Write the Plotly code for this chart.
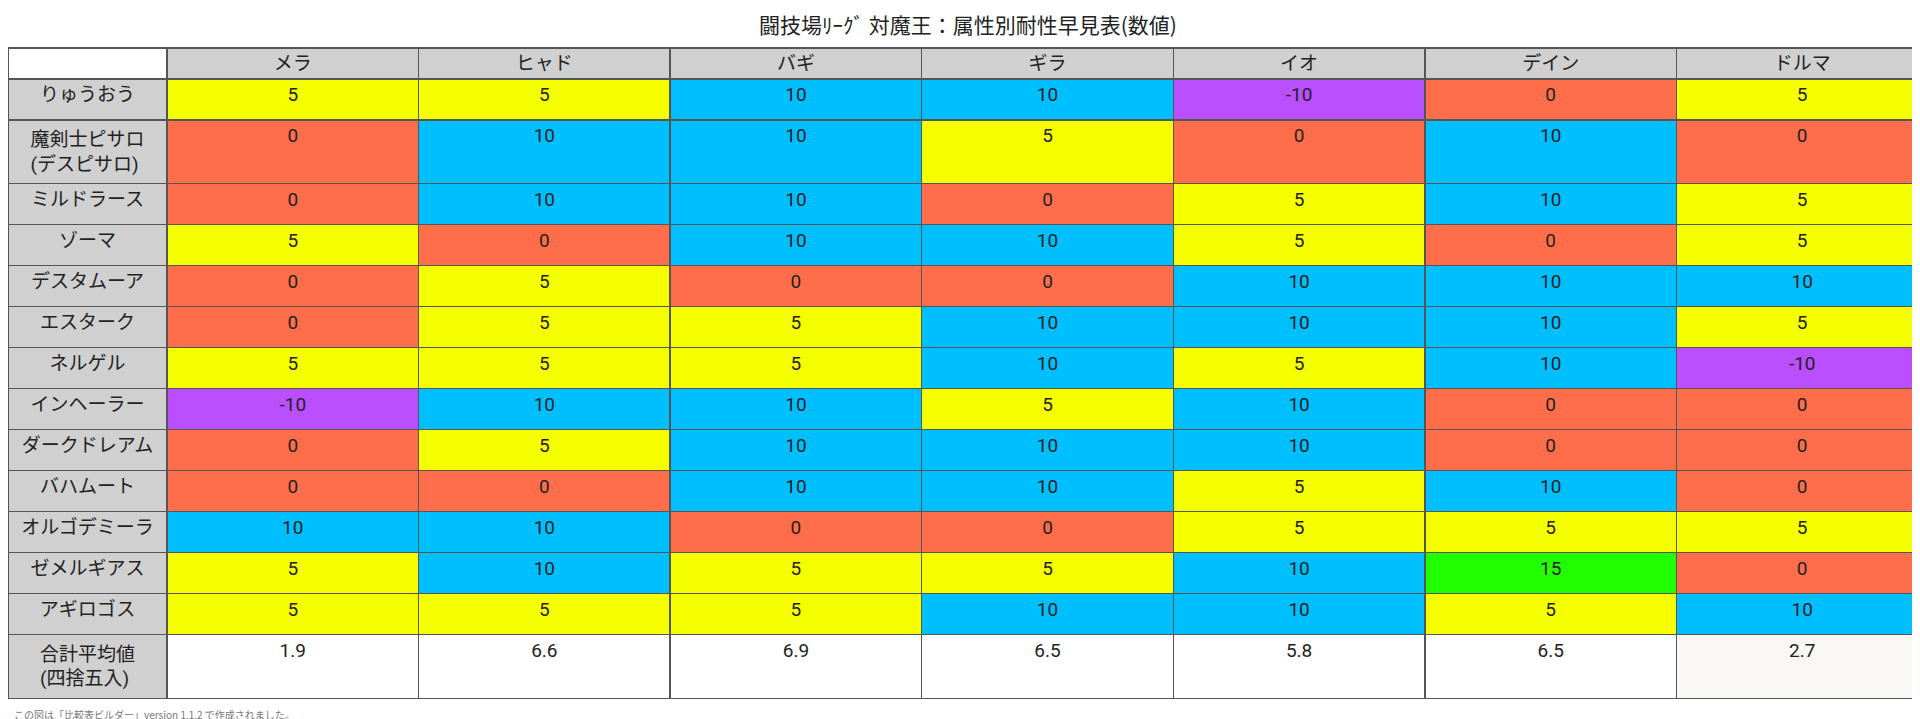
import plotly.graph_objects as go

columns = ["メラ", "ヒャド", "バギ", "ギラ", "イオ", "デイン", "ドルマ"]
bosses = ["りゅうおう", "魔剣士ピサロ<br>(デスピサロ)", "ミルドラース", "ゾーマ", "デスタムーア",
          "エスターク", "ネルゲル", "インヘーラー", "ダークドレアム", "バハムート",
          "オルゴデミーラ", "ゼメルギアス", "アギロゴス"]
values = [
    [5, 5, 10, 10, -10, 0, 5],
    [0, 10, 10, 5, 0, 10, 0],
    [0, 10, 10, 0, 5, 10, 5],
    [5, 0, 10, 10, 5, 0, 5],
    [0, 5, 0, 0, 10, 10, 10],
    [0, 5, 5, 10, 10, 10, 5],
    [5, 5, 5, 10, 5, 10, -10],
    [-10, 10, 10, 5, 10, 0, 0],
    [0, 5, 10, 10, 10, 0, 0],
    [0, 0, 10, 10, 5, 10, 0],
    [10, 10, 0, 0, 5, 5, 5],
    [5, 10, 5, 5, 10, 15, 0],
    [5, 5, 5, 10, 10, 5, 10],
]
averages = ["1.9", "6.6", "6.9", "6.5", "5.8", "6.5", "2.7"]
avg_label = "合計平均値<br>(四捨五入)"

palette = {-10: "#b94fff", 0: "#ff6e4a", 5: "#f5ff00", 10: "#00bfff", 15: "#22ff00"}
grey = "#d0d0d0"

cell_values = [bosses + [avg_label]]
cell_fills = [[grey] * (len(bosses) + 1)]
for j in range(len(columns)):
    col = [row[j] for row in values]
    cell_values.append([str(v) for v in col] + [averages[j]])
    last = "#faf8f4" if j == len(columns) - 1 else "white"
    cell_fills.append([palette[v] for v in col] + [last])

first_w = 159
other_w = (1920 - first_w) / len(columns)

fig = go.Figure(go.Table(
    columnwidth=[first_w] + [other_w] * len(columns),
    header=dict(
        values=[""] + columns,
        fill_color=["white"] + [grey] * len(columns),
        line_color="#555555",
        line_width=1.5,
        align="center",
        height=31,
        font=dict(family="Roboto, Noto Sans CJK JP", size=19, color="#222222"),
    ),
    cells=dict(
        values=cell_values,
        fill_color=cell_fills,
        line_color="#555555",
        line_width=1.5,
        align="center",
        height=41,
        font=dict(family="Roboto, Noto Sans CJK JP", size=19, color="#222222"),
    ),
))

fig.update_layout(
    width=1920, height=719,
    margin=dict(l=0, r=0, t=40, b=0),
    paper_bgcolor="white",
    title=dict(text="闘技場ﾘｰｸﾞ 対魔王：属性別耐性早見表(数値)", x=0.5, y=0.985, yanchor="top",
               font=dict(family="Noto Sans CJK JP", size=21, color="#222222")),
    annotations=[dict(text="この図は「比較表ビルダー」version 1.1.2 で作成されました。",
                      x=0.002, y=0.005, xref="paper", yref="paper", xanchor="left", yanchor="bottom",
                      showarrow=False, font=dict(family="Noto Sans CJK JP", size=10, color="#777777"))],
)

fig.write_html("out.html")
